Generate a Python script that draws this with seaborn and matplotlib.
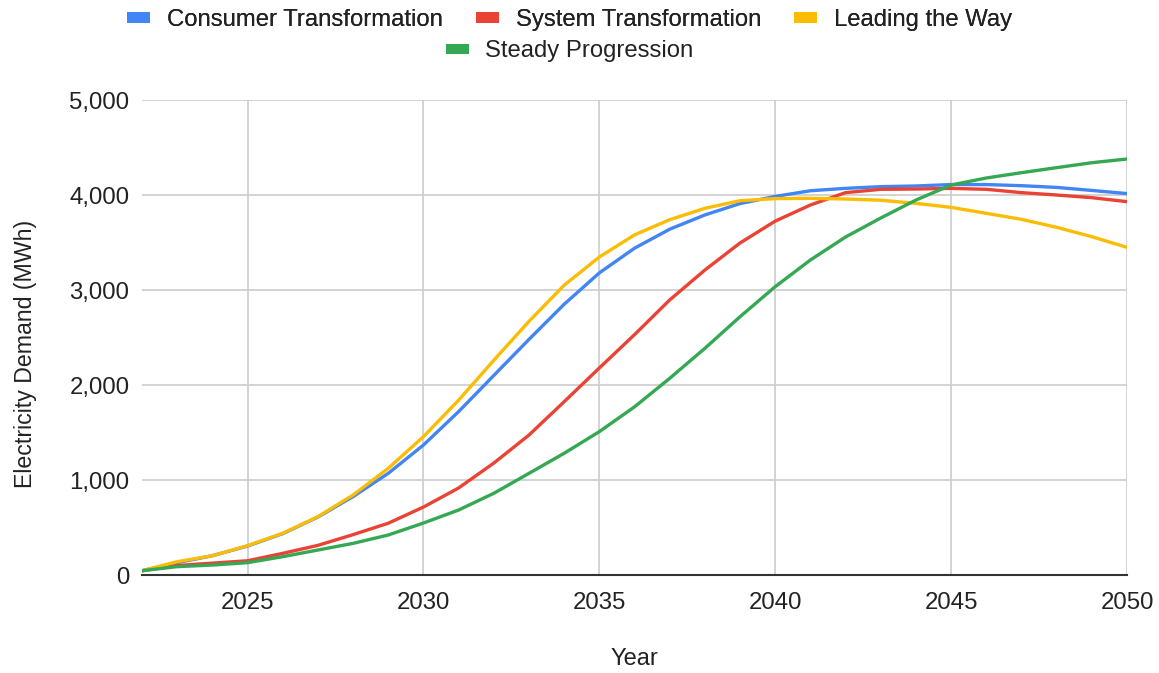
import matplotlib
matplotlib.use("Agg")
import matplotlib.pyplot as plt
from matplotlib.patches import Patch
from matplotlib.ticker import FuncFormatter, MultipleLocator
import seaborn as sns
import pandas as pd

years = list(range(2022, 2051))

consumer_transformation = [
    45, 130, 203, 305, 435, 610, 825, 1070, 1368, 1720, 2100, 2480, 2850, 3180,
    3440, 3640, 3790, 3910, 3985, 4045, 4070, 4088, 4095, 4110, 4110, 4098,
    4080, 4048, 4015,
]
system_transformation = [
    45, 100, 125, 150, 228, 312, 425, 545, 715, 916, 1178, 1473, 1824, 2179,
    2530, 2895, 3210, 3495, 3725, 3895, 4025, 4060, 4063, 4070, 4060, 4025,
    4000, 3972, 3930,
]
leading_the_way = [
    45, 140, 203, 309, 439, 614, 842, 1123, 1456, 1840, 2260, 2670, 3050, 3347,
    3580, 3740, 3860, 3940, 3962, 3965, 3958, 3945, 3912, 3870, 3807, 3744,
    3660, 3561, 3449,
]
steady_progression = [
    45, 88, 105, 130, 193, 263, 333, 421, 547, 684, 860, 1070, 1281, 1509,
    1770, 2070, 2386, 2719, 3035, 3316, 3558, 3758, 3947, 4105, 4179, 4235,
    4288, 4340, 4379,
]

series_names = [
    "Consumer Transformation",
    "System Transformation",
    "Leading the Way",
    "Steady Progression",
]
series_values = [
    consumer_transformation,
    system_transformation,
    leading_the_way,
    steady_progression,
]
palette = ["#4285F4", "#EA4335", "#FBBC04", "#34A853"]

df = pd.concat(
    [pd.DataFrame({"Year": years, "Demand": vals, "Scenario": name})
     for name, vals in zip(series_names, series_values)],
    ignore_index=True,
)

sns.set_theme(style="white")
plt.rcParams["font.family"] = ["Liberation Sans", "DejaVu Sans"]

text_color = "#222222"

fig = plt.figure(figsize=(11.59, 6.73), dpi=100)
ax = fig.add_axes([0.1225, 0.1456, 0.8499, 0.7058])

sns.lineplot(
    data=df, x="Year", y="Demand", hue="Scenario", hue_order=series_names,
    palette=palette, linewidth=2.4, legend=False, ax=ax,
)

ax.set_xlim(2022, 2050)
ax.set_ylim(0, 5000)
ax.xaxis.set_major_locator(MultipleLocator(5))
ax.yaxis.set_major_locator(MultipleLocator(1000))
ax.yaxis.set_major_formatter(FuncFormatter(lambda v, _: f"{int(v):,}"))

ax.grid(True, color="#cccccc", linewidth=1.2)
ax.set_axisbelow(True)
for side in ["top", "right", "left"]:
    ax.spines[side].set_visible(False)
ax.spines["bottom"].set_color("#333333")
ax.spines["bottom"].set_linewidth(1.5)
ax.spines["bottom"].set_zorder(5)

ax.tick_params(axis="both", length=0, labelsize=17.3, colors=text_color)
ax.tick_params(axis="x", pad=12)
ax.tick_params(axis="y", pad=9)

ax.set_xlabel("Year", fontsize=17, color=text_color, labelpad=25)
ax.set_ylabel("Electricity Demand (MWh)", fontsize=16.7, color=text_color)
ax.yaxis.set_label_coords(-0.1066, 0.465)

# Legend in two centred rows: three entries on top, one below
handles = [Patch(facecolor=c, edgecolor="none") for c in palette]
leg_kw = dict(frameon=False, fontsize=17.2, handlelength=0.96, handleheight=0.3,
              handletextpad=0.7, columnspacing=1.38, labelcolor=text_color,
              borderpad=0, borderaxespad=0)
legend_x = 0.4914
leg1 = fig.legend(handles[:3], series_names[:3], ncol=3,
                  loc="center", bbox_to_anchor=(legend_x, 1 - 20 / 673), **leg_kw)
fig.add_artist(leg1)
fig.legend(handles[3:], series_names[3:], ncol=1,
           loc="center", bbox_to_anchor=(legend_x, 1 - 51.5 / 673), **leg_kw)

fig.savefig("out.png", dpi=100, facecolor="white")
